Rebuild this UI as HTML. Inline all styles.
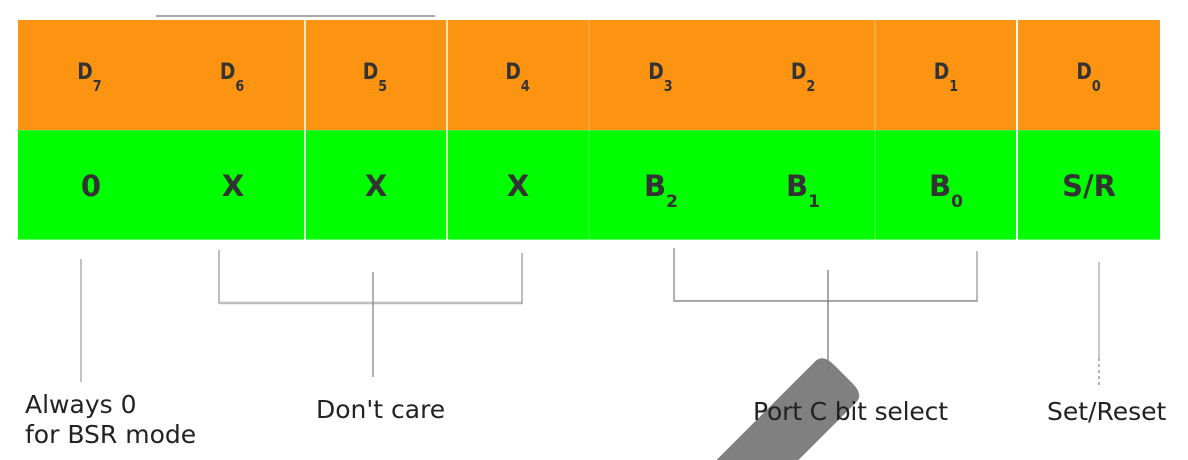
<!DOCTYPE html>
<html>
<head>
<meta charset="utf-8">
<style>
  html, body { margin: 0; padding: 0; background: #ffffff; }
  body { width: 1188px; height: 460px; overflow: hidden; }
  svg { display: block; }
</style>
</head>
<body>
<svg width="1188" height="460" viewBox="0 0 1188 460" xmlns="http://www.w3.org/2000/svg">
  <rect x="0" y="0" width="1188" height="460" fill="#ffffff"/>

  <!-- top gray line -->
  <line x1="156" y1="16" x2="435" y2="16" stroke="#a8a8a8" stroke-width="2"/>

  <!-- table rows -->
  <rect x="18" y="20" width="1142" height="110" fill="#fd9411"/>
  <rect x="18" y="130" width="1142" height="110" fill="#00fe00"/>
  <line x1="18" y1="130.5" x2="1160" y2="130.5" stroke="#3df03d" stroke-width="1"/>
  <line x1="18" y1="239.5" x2="1160" y2="239.5" stroke="#66ff66" stroke-width="1"/>

  <!-- dividers -->
  <g stroke-width="2">
    <line x1="305" y1="20" x2="305" y2="240" stroke="#fff3e0" stroke-opacity="0.9"/>
    <line x1="447" y1="20" x2="447" y2="240" stroke="#fff3e0" stroke-opacity="0.85"/>
    <line x1="1017" y1="20" x2="1017" y2="240" stroke="#ffffff" stroke-opacity="0.95"/>
    <line x1="589" y1="20" x2="589" y2="240" stroke="#ffffff" stroke-opacity="0.18" stroke-width="1.5"/>
    <line x1="875" y1="20" x2="875" y2="240" stroke="#ffffff" stroke-opacity="0.25" stroke-width="1.5"/>
  </g>

  <!-- D labels -->
  <g font-family="'DejaVu Sans', 'Liberation Sans', sans-serif" font-weight="bold" fill="#333333" font-size="22" text-anchor="middle">
    <text x="89.4" y="79" transform="translate(89.4 0) scale(0.85 1) translate(-89.4 0)">D<tspan font-size="15" dy="12">7</tspan></text>
    <text x="232.1" y="79" transform="translate(232.1 0) scale(0.85 1) translate(-232.1 0)">D<tspan font-size="15" dy="12">6</tspan></text>
    <text x="374.9" y="79" transform="translate(374.9 0) scale(0.85 1) translate(-374.9 0)">D<tspan font-size="15" dy="12">5</tspan></text>
    <text x="517.6" y="79" transform="translate(517.6 0) scale(0.85 1) translate(-517.6 0)">D<tspan font-size="15" dy="12">4</tspan></text>
    <text x="660.4" y="79" transform="translate(660.4 0) scale(0.85 1) translate(-660.4 0)">D<tspan font-size="15" dy="12">3</tspan></text>
    <text x="803.1" y="79" transform="translate(803.1 0) scale(0.85 1) translate(-803.1 0)">D<tspan font-size="15" dy="12">2</tspan></text>
    <text x="945.9" y="79" transform="translate(945.9 0) scale(0.85 1) translate(-945.9 0)">D<tspan font-size="15" dy="12">1</tspan></text>
    <text x="1088.6" y="79" transform="translate(1088.6 0) scale(0.85 1) translate(-1088.6 0)">D<tspan font-size="15" dy="12">0</tspan></text>
  </g>

  <!-- green row labels -->
  <g font-family="'DejaVu Sans', 'Liberation Sans', sans-serif" font-weight="bold" fill="#333333" font-size="29" text-anchor="middle">
    <text x="91" y="196">0</text>
    <text x="233" y="196">X</text>
    <text x="376" y="196">X</text>
    <text x="518" y="196">X</text>
    <text x="661" y="196">B<tspan font-size="17" dy="11">2</tspan></text>
    <text x="803" y="196">B<tspan font-size="17" dy="11">1</tspan></text>
    <text x="946" y="196">B<tspan font-size="17" dy="11">0</tspan></text>
    <text x="1089" y="196">S/R</text>
  </g>

  <!-- gray diagonal bar (ends exactly at frame bottom) -->
  <path d="M 716.5 460 L 815.05 361.45 Q 822.83 353.67 834.14 364.98 L 852.52 383.36 Q 863.83 394.67 856.05 402.45 L 798.5 460 Z" fill="#808080"/>

  <!-- connectors -->
  <g fill="none">
    <line x1="81" y1="259" x2="81" y2="382" stroke="#c4c4c4" stroke-width="2"/>
    <line x1="219" y1="250" x2="219" y2="304" stroke="#9a9a9a" stroke-width="1.3"/>
    <line x1="219" y1="303" x2="522" y2="303" stroke="#bdbdbd" stroke-width="2.5"/>
    <line x1="522" y1="253" x2="522" y2="304" stroke="#9a9a9a" stroke-width="1.3"/>
    <line x1="373" y1="272" x2="373" y2="377" stroke="#8a8a8a" stroke-width="1.3"/>
    <line x1="674" y1="248" x2="674" y2="302" stroke="#8a8a8a" stroke-width="1.3"/>
    <line x1="674" y1="301" x2="977" y2="301" stroke="#a8a8a8" stroke-width="2"/>
    <line x1="977" y1="251" x2="977" y2="302" stroke="#9a9a9a" stroke-width="1.3"/>
    <line x1="828" y1="270" x2="828" y2="373" stroke="#7a7a7a" stroke-width="1.3"/>
    <line x1="1099" y1="262" x2="1099" y2="358" stroke="#c8c8c8" stroke-width="2"/>
    <line x1="1099" y1="358" x2="1099" y2="387" stroke="#999999" stroke-width="1.5" stroke-dasharray="3 3"/>
  </g>

  <!-- bottom labels -->
  <g font-family="'DejaVu Sans', 'Liberation Sans', sans-serif" font-size="25" fill="#222222">
    <text x="25" y="413">Always 0</text>
    <text x="25" y="443">for BSR mode</text>
    <text x="316" y="418">Don't care</text>
    <text x="753" y="420" textLength="195" lengthAdjust="spacing">Port C bit select</text>
    <text x="1047" y="420">Set/Reset</text>
  </g>
</svg>
</body>
</html>
